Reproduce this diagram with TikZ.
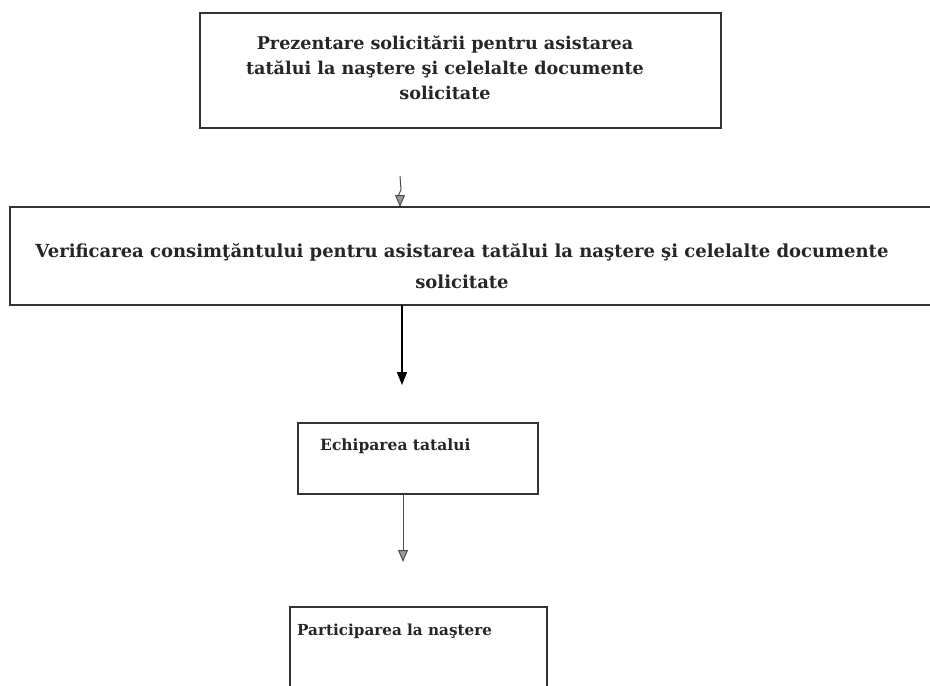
\documentclass[tikz,border=0pt]{standalone}
\usepackage{fontspec}
\setmainfont{DejaVu Serif}
\usetikzlibrary{arrows.meta}
\begin{document}
\begin{tikzpicture}[x=1pt,y=-1pt,
  box/.style={draw=black!80,line width=1.4pt,inner sep=0pt,outer sep=0pt},
  txt/.style={font=\bfseries\fontsize{17.6}{25}\selectfont,text=black!85,align=center,inner sep=0pt},
  grayarrow/.style={draw=black!70,line width=1pt,-{Triangle[length=12pt,width=10pt,fill=black!40]}},
  blackarrow/.style={draw=black,line width=1.6pt,-{Triangle[length=13pt,width=10pt]}}]
\useasboundingbox (0,0) rectangle (930,686);
\node[box,minimum width=521pt,minimum height=115pt] (b1) at (460.5,70.5) {};
\node[txt] (t1) at (445,68) {Prezentare solicitării pentru asistarea\\tatălui la naştere şi celelalte documente\\solicitate};
\node[box,minimum width=930pt,minimum height=98pt,anchor=north west] (b2) at (10,207) {};
\node[txt,font=\bfseries\fontsize{18}{31}\selectfont] (t2) at (462,266) {Verificarea consimţăntului pentru asistarea tatălui la naştere şi celelalte documente\\solicitate};
\node[box,minimum width=240pt,minimum height=71pt,anchor=north west] (b3) at (298,423) {};
\node[txt,anchor=west,font=\bfseries\fontsize{15.5}{24}\selectfont] (t3) at (320,446) {Echiparea tatalui};
\coordinate (b4tl) at (290,607);
\coordinate (b4tr) at (547,607);
\coordinate (b4bl) at (290,690);
\coordinate (b4br) at (547,690);
\draw[black!80,line width=1.4pt] (b4bl) -- (b4tl) -- (b4tr) -- (b4br);
\node[txt,anchor=west,font=\bfseries\fontsize{15.2}{24}\selectfont] (t4) at (297,631) {Participarea la naştere};
\coordinate (a1s) at (400,176);
\coordinate (a1m) at (400,195);
\draw[grayarrow] (a1s) -- (401,190) -- (398,196) -- (400,196) -- (b2.north -| a1m);
\draw[blackarrow] (b2.south -| 402,0) -- (402,385);
\draw[grayarrow] (b3.south -| 403,0) -- (403,562);
\end{tikzpicture}
\end{document}
